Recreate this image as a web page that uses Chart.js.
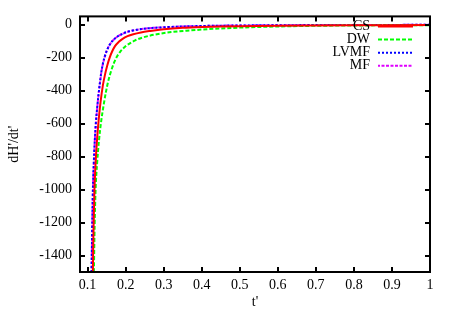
<!DOCTYPE html>
<html><head><meta charset="utf-8">
<script src="https://cdn.jsdelivr.net/npm/chart.js@4/dist/chart.umd.min.js"></script>
<style>html,body{margin:0;padding:0;background:#fff}#wrap{width:449px;height:314px;position:relative}</style>
</head><body><div id="wrap"><canvas id="c"></canvas></div>
<script>
const xTicks=[0.1,0.2,0.3,0.4,0.5,0.6,0.7,0.8,0.9,1];
const yTicks=[0,-200,-400,-600,-800,-1000,-1200,-1400];
const seriesNames=["CS","DW","LVMF","MF"];

const tCS=[0.1138,0.1155,0.118,0.121,0.125,0.129,0.134,0.140,0.146,0.152,0.158,0.165,0.172,0.182,0.192,0.205,0.220,0.240,0.265,0.300,0.350,0.400,0.450,0.500,0.600,0.700,0.800,0.900,1.000];
const vCS=[-1500,-1250,-1000,-840,-690,-580,-470,-370,-300,-245,-200,-160,-130,-104,-86,-70,-58,-47,-38,-28,-19,-14,-11,-9,-6,-4.5,-3.5,-3,-2.5];

const tDW=[0.1165,0.1185,0.121,0.125,0.130,0.136,0.142,0.148,0.155,0.162,0.170,0.178,0.186,0.199,0.212,0.225,0.245,0.265,0.290,0.320,0.370,0.420,0.500,0.600,0.700,0.800,0.900,1.000];
const vDW=[-1500,-1220,-1000,-840,-700,-580,-490,-410,-335,-280,-228,-190,-163,-133,-112,-95,-78,-66,-55,-45,-35,-27,-18,-11,-7,-5,-4,-3.5];

const tLVMF=[0.1103,0.1119,0.1139,0.1159,0.1189,0.1219,0.1249,0.1279,0.1319,0.1359,0.1399,0.1449,0.1509,0.1579,0.1649,0.1719,0.1799,0.1949,0.2099,0.2299,0.2599,0.300,0.350,0.400,0.500,0.600,0.700,0.800,0.900,1.000];
const vLVMF=[-1500,-1250,-1000,-860,-700,-590,-510,-440,-360,-290,-240,-195,-155,-122,-100,-84,-70,-52,-40,-31,-22,-16,-11,-8,-5,-3.5,-2.5,-2,-1.5,-1.2];

const tMF=[0.1104,0.112,0.114,0.116,0.119,0.122,0.125,0.128,0.132,0.136,0.140,0.145,0.151,0.158,0.165,0.172,0.180,0.195,0.210,0.230,0.260,0.300,0.350,0.400,0.500,0.600,0.700,0.800,0.900,1.000];
const vMF=[-1500,-1250,-1000,-860,-700,-590,-510,-440,-360,-290,-240,-195,-155,-122,-100,-84,-70,-52,-40,-31,-22,-16,-11,-8,-5,-3.5,-2.5,-2,-1.5,-1.2];

const pts=(t,v)=>t.map((x,i)=>({x:x,y:v[i]}));
const FONT="'Liberation Serif','Times New Roman',serif";

const framePlugin={id:'frame',
 beforeDraw(chart){const c=chart.ctx;c.save();c.fillStyle='#fff';c.fillRect(0,0,chart.width,chart.height);c.restore();},
 afterDatasetsDraw(chart){
  const {ctx,chartArea:a,scales:{x,y}}=chart;
  ctx.save();ctx.strokeStyle='#000';ctx.lineWidth=2;
  ctx.strokeRect(a.left,a.top,a.right-a.left,a.bottom-a.top);
  ctx.beginPath();
  xTicks.forEach(v=>{const p=Math.round(x.getPixelForValue(v));ctx.moveTo(p,a.bottom);ctx.lineTo(p,a.bottom-5);ctx.moveTo(p,a.top);ctx.lineTo(p,a.top+5);});
  yTicks.forEach(v=>{const p=Math.round(y.getPixelForValue(v));ctx.moveTo(a.left,p);ctx.lineTo(a.left+5,p);ctx.moveTo(a.right,p);ctx.lineTo(a.right-5,p);});
  ctx.stroke();
  ctx.font="14px "+FONT;ctx.textAlign='right';ctx.textBaseline='middle';ctx.fillStyle='#000';
  chart.data.datasets.forEach((ds,i)=>{
   const yy=26+i*13.1;
   ctx.fillText(ds.label,370,yy);
   ctx.beginPath();ctx.setLineDash(ds.borderDash||[]);ctx.lineDashOffset=ds.borderDashOffset||0;ctx.strokeStyle=ds.borderColor;ctx.lineWidth=ds.borderWidth;
   ctx.moveTo(378,yy+0.5);ctx.lineTo(413,yy+0.5);ctx.stroke();
  });
  ctx.restore();
 }};

new Chart(document.getElementById('c'),{
 type:'line',
 data:{datasets:[
  {label:seriesNames[0],data:pts(tCS,vCS),borderColor:'#ff0000',borderWidth:2,borderDash:[]},
  {label:seriesNames[1],data:pts(tDW,vDW),borderColor:'#00ff00',borderWidth:2,borderDash:[4,2]},
  {label:seriesNames[2],data:pts(tLVMF,vLVMF),borderColor:'#0000ff',borderWidth:2,borderDash:[2,2]},
  {label:seriesNames[3],data:pts(tMF,vMF),borderColor:'#e000ff',borderWidth:2,borderDash:[3,1.5],borderDashOffset:1}
 ]},
 options:{
  responsive:true,maintainAspectRatio:false,animation:false,devicePixelRatio:1,
  layout:{padding:{top:15,right:19,left:0,bottom:0}},
  elements:{point:{radius:0},line:{cubicInterpolationMode:'monotone',fill:false}},
  plugins:{legend:{display:false},tooltip:{enabled:false}},
  scales:{
   x:{type:'linear',position:'bottom',min:0.08,max:1,
    afterFit(s){s.height=42;},
    afterBuildTicks(s){s.ticks=xTicks.map(v=>({value:v}));},
    grid:{display:false,drawTicks:false},border:{display:false},
    ticks:{font:{family:FONT,size:14},color:'#000',padding:5,maxRotation:0,autoSkip:false,
      callback:v=>String(parseFloat(Number(v).toFixed(2)))},
    title:{display:true,text:"t'",font:{family:FONT,size:14},color:'#000',padding:{top:0,bottom:3}}},
   y:{type:'linear',min:-1500,max:50,
    afterFit(s){s.width=80;},
    afterBuildTicks(s){s.ticks=yTicks.map(v=>({value:v}));},
    grid:{display:false,drawTicks:false},border:{display:false},
    ticks:{font:{family:FONT,size:14},color:'#000',padding:8,autoSkip:false,callback:v=>String(v)},
    title:{display:true,text:"dH'/dt'",font:{family:FONT,size:14},color:'#000',padding:{top:6,bottom:0}}}
  }
 },
 plugins:[framePlugin]
});
</script></body></html>
